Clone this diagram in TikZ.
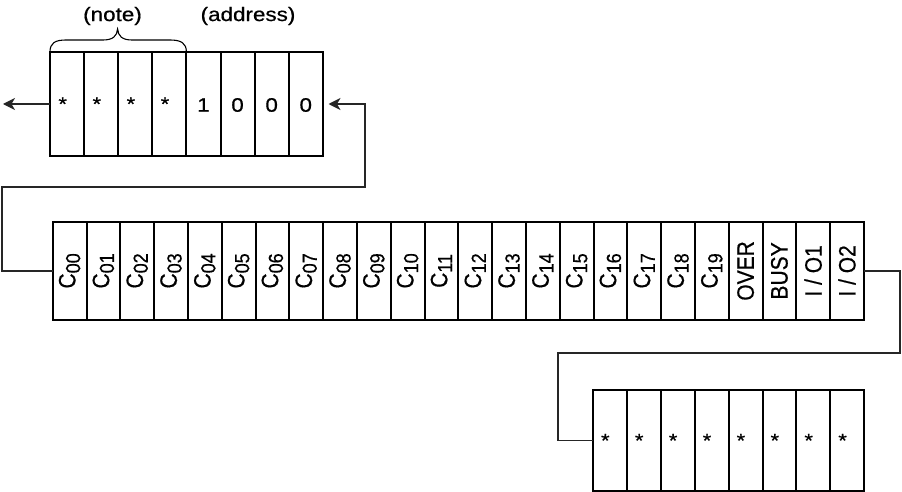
\documentclass[tikz,border=0pt]{standalone}
\usepackage{fontspec}
\setmainfont{Liberation Sans}[FakeBold=0.6]
\usetikzlibrary{arrows.meta}
\newcommand{\hs}[1]{\scalebox{1.15}[1]{#1}}
\newcommand{\vs}[1]{\scalebox{1}[1.13]{#1}}
\newcommand{\csub}[1]{C\raisebox{-0.2em}{\fontsize{18pt}{19pt}\selectfont #1}}
\begin{document}
\begin{tikzpicture}[x=1pt,y=-1pt,
  font=\fontsize{19.5pt}{22pt}\selectfont,
  cell/.style={draw=black, line width=2pt, inner sep=0pt, outer sep=0pt},
  topcell/.style={cell, minimum width=34.1pt, minimum height=104pt},
  midcell/.style={cell, minimum width=33.8pt, minimum height=98.3pt, font=\fontsize{21pt}{23pt}\selectfont},
  botcell/.style={cell, minimum width=33.9pt, minimum height=101.5pt},
  star/.style={inner sep=0pt, font=\fontsize{19pt}{20pt}\selectfont},
  conn/.style={draw=black!85, line width=1.2pt},
  tip/.style={-{Stealth[length=12pt,width=12pt,inset=3.5pt]}}]
\useasboundingbox (0,0) rectangle (902,492);
% top register
\foreach \i in {1,...,8}{
  \node[topcell] (t\i) at ({50+34.1*(\i-0.5)},104) {};
}
\foreach \i in {1,...,4}{
  \node[star] (ts\i) at ({50+34.1*(\i-1)+12.7},104) {\hs{*}};
}
\node (d5) at ([yshift=-1pt]t5.center) {\hs{1}};
\node (d6) at ([yshift=-1pt]t6.center) {\hs{0}};
\node (d7) at ([yshift=-1pt]t7.center) {\hs{0}};
\node (d8) at ([yshift=-1pt]t8.center) {\hs{0}};
% labels
\node (note) at (112.5,16) {\hs{(note)}};
\node (addr) at (248,16) {\hs{(address)}};
\draw[line width=1.1pt] (t1.north west) .. controls (50,43) and (55,40) .. (66,40) -- (103,40)
  .. controls (113,40) and (117,36) .. (117.6,29)
  .. controls (118.2,36) and (122,40) .. (132,40) -- (170,40)
  .. controls (181,40) and (186.4,43) .. (t4.north east);
% middle register
\foreach \lab [count=\i] in {{\csub{00}},{\csub{01}},{\csub{02}},{\csub{03}},{\csub{04}},{\csub{05}},{\csub{06}},{\csub{07}},{\csub{08}},{\csub{09}},{\csub{10}},{\csub{11}},{\csub{12}},{\csub{13}},{\csub{14}},{\csub{15}},{\csub{16}},{\csub{17}},{\csub{18}},{\csub{19}},{OVER},{BUSY},{I / O1},{I / O2}}{
  \node[midcell] (b\i) at ({52.7+33.8*(\i-0.5)},270.9) {\rotatebox{90}{\vs{\lab}}};
}
% bottom register
\foreach \i in {1,...,8}{
  \node[botcell] (c\i) at ({593+33.9*(\i-0.5)},440.3) {};
  \node[star] (cs\i) at ({593+33.9*(\i-1)+12.3},440.5) {\hs{*}};
}
% connectors
\coordinate (la) at (3,104);
\coordinate (ra) at (328.5,104);
\draw[conn,tip] (t1.west) -- (la);
\draw[conn,tip] (b1.west) -- (2,270.9) |- (365,187) |- (ra);
\draw[conn] (b24.east) -- (900,270.9) |- (558,353) |- (c1.west);
\end{tikzpicture}
\end{document}
